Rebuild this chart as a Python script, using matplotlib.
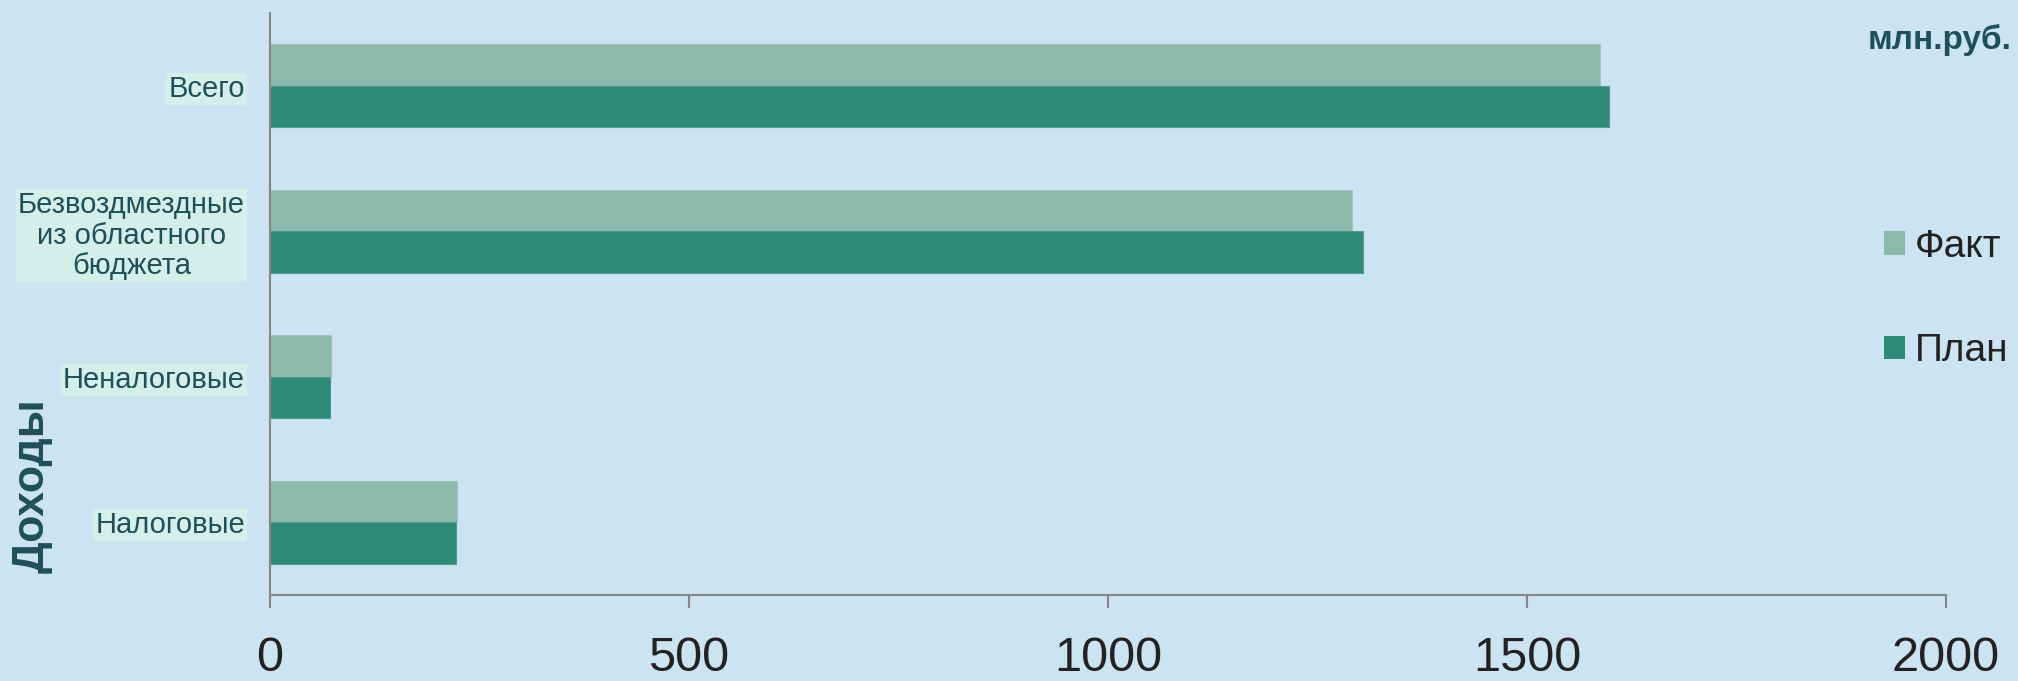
import matplotlib
matplotlib.use("Agg")
import numpy as np
import matplotlib.pyplot as plt
from matplotlib.patches import Patch

plt.rcParams['font.family'] = ['Liberation Sans', 'DejaVu Sans']

# data (млн.руб.), bottom to top
categories = ["Налоговые", "Неналоговые",
              "Безвоздмездные\nиз областного\nбюджета", "Всего"]
fact = [223, 73, 1291, 1587]
plan = [222, 72, 1304, 1598]
series_names = ["Факт", "План"]
x_ticks = [0, 500, 1000, 1500, 2000]

bg = "#cce3f2"
c_fact = "#8bb9ab"
c_plan = "#2e8a76"
dark = "#1f4f58"
box = "#d4efe9"
axis_col = "#868686"


def main():
    fig = plt.figure(figsize=(20.18, 6.81), dpi=100, facecolor=bg)
    ax = fig.add_axes([270 / 2018, 86 / 681, (1946 - 270) / 2018, (595 - 13) / 681])
    ax.set_facecolor(bg)

    y = np.arange(len(categories))
    h = 0.284
    ax.barh(y + h / 2, fact, height=h, color=c_fact, edgecolor="#9ec6ba", linewidth=0.8)
    ax.barh(y - h / 2, plan, height=h, color=c_plan, edgecolor="#4c9c8a", linewidth=0.8)

    ax.set_xlim(0, 2000)
    ax.set_ylim(-0.5, 3.5)
    ax.set_xticks(x_ticks)
    ax.set_xticklabels([str(v) for v in x_ticks], fontsize=35, color="#222222")
    ax.tick_params(axis="x", length=9.5, width=1.5, color=axis_col, pad=20)

    ax.set_yticks(y)
    ax.set_yticklabels(categories, fontsize=21, color=dark,
                       multialignment="center", linespacing=1.12)
    ax.tick_params(axis="y", length=0, pad=18)
    for lab in ax.get_yticklabels():
        lab.set_bbox(dict(facecolor=box, edgecolor="none", pad=1.5))

    for s in ["top", "right"]:
        ax.spines[s].set_visible(False)
    for s in ["left", "bottom"]:
        ax.spines[s].set_color(axis_col)
        ax.spines[s].set_linewidth(1.5)

    handles = [Patch(facecolor=c_fact, edgecolor="none"),
               Patch(facecolor=c_plan, edgecolor="none")]
    fig.legend(handles, series_names, loc="center left",
               bbox_to_anchor=(1884 / 2018, 1 - 299 / 681),
               frameon=False, fontsize=28, labelcolor="#222222",
               handlelength=0.55, handleheight=0.55, handletextpad=0.25,
               labelspacing=1.77, borderpad=0, borderaxespad=0)

    fig.text(2012 / 2018, 1 - 40 / 681, "млн.руб.", ha="right", va="center",
             fontsize=24, fontweight="bold", color=dark)
    fig.text(32 / 2018, 1 - 486 / 681, "Доходы", ha="center", va="center",
             rotation=90, fontsize=32, fontweight="bold", color=dark)

    fig.savefig("out.png", dpi=100, facecolor=bg)
    plt.close(fig)


if __name__ == "__main__":
    main()
